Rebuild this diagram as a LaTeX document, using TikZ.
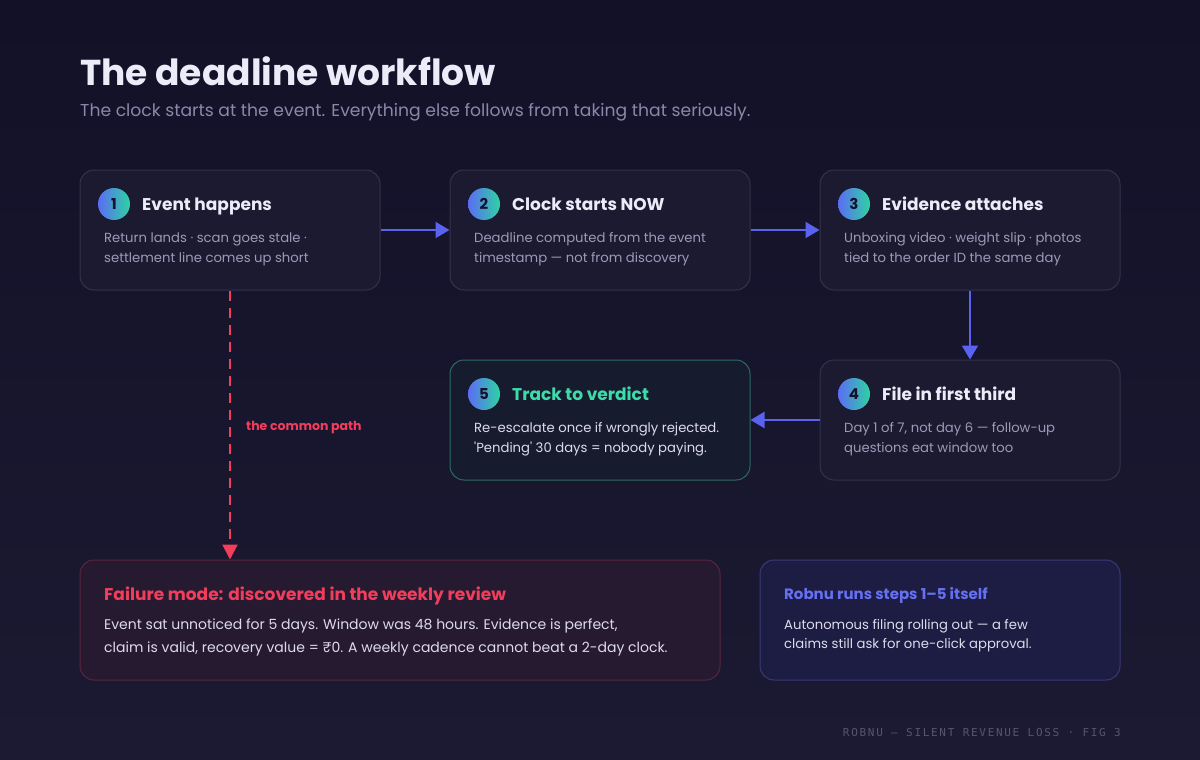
\documentclass[tikz,border=0pt]{standalone}
\usepackage{fontspec}
\setmainfont{Poppins}
\newfontfamily\monof[LetterSpace=15.5]{DejaVu Sans Mono}
\usetikzlibrary{arrows.meta}
\definecolor{bgtop}{HTML}{121128}
\definecolor{bgbot}{HTML}{1B1A32}
\definecolor{cardfill}{HTML}{1C1A30}
\definecolor{cardline}{HTML}{34324C}
\definecolor{vfill}{HTML}{161C2E}
\definecolor{vline}{HTML}{2B6B62}
\definecolor{failfill}{HTML}{261A30}
\definecolor{failline}{HTML}{5C2440}
\definecolor{robfill}{HTML}{1D1C42}
\definecolor{robline}{HTML}{383A78}
\definecolor{flow}{HTML}{5A63F0}
\definecolor{alert}{HTML}{F23D5C}
\definecolor{ttlc}{HTML}{ECEBF8}
\definecolor{subc}{HTML}{8A88AA}
\definecolor{bodyc}{HTML}{9C9AB8}
\definecolor{lightc}{HTML}{DDDBEB}
\definecolor{tealc}{HTML}{3DDCAA}
\definecolor{bluec}{HTML}{6570F2}
\definecolor{footc}{HTML}{56556E}
\definecolor{numA}{HTML}{5B6CF5}
\definecolor{numB}{HTML}{2ED3A3}
\definecolor{numtext}{HTML}{14132A}
\tikzset{
  card/.style={draw=cardline, fill=cardfill, rounded corners=14pt, line width=1pt, inner sep=0pt, minimum width=300pt, minimum height=120pt},
  num/.style={circle, minimum size=32pt, inner sep=0pt, left color=numA, right color=numB, text=numtext, font=\bfseries\fontsize{15}{15}\selectfont},
  steptitle/.style={anchor=base west, inner sep=0pt, text=ttlc, font=\bfseries\fontsize{17}{20}\selectfont},
  stepbody/.style={anchor=base west, inner sep=0pt, align=left, text=bodyc, font=\fontsize{13.2}{20}\selectfont},
  flowarrow/.style={draw=flow, line width=2pt, -{Triangle[length=14pt,width=16pt]}},
}
\begin{document}
\begin{tikzpicture}[x=1pt,y=-1pt]
\useasboundingbox (0,0) rectangle (1200,760);
\shade[top color=bgtop, bottom color=bgbot] (0,0) rectangle (1200,760);

% header
\node[anchor=base west, inner sep=0pt, text=ttlc, font=\bfseries\fontsize{36}{40}\selectfont] (title) at (80,85) {The deadline workflow};
\node[anchor=base west, inner sep=0pt, text=subc, font=\fontsize{17.2}{20}\selectfont] (subtitle) at (80,116) {The clock starts at the event. Everything else follows from taking that seriously.};

% cards
\node[card] (b1) at (230,230) {};
\node[card] (b2) at (600,230) {};
\node[card] (b3) at (970,230) {};
\node[card] (b4) at (970,420) {};
\node[card, draw=vline, fill=vfill] (b5) at (600,420) {};
\node[card, draw=failline, fill=failfill, minimum width=640pt] (fail) at (400,620) {};
\node[card, draw=robline, fill=robfill, minimum width=360pt] (rob) at (940,620) {};

% step 1
\node[num] (n1) at (114,204) {1};
\node[steptitle] (t1) at (142,210) {Event happens};
\node[stepbody] (d1) at (104,262) {Return lands · scan goes stale ·\\settlement line comes up short};
% step 2
\node[num] (n2) at (484,204) {2};
\node[steptitle] (t2) at (512,210) {Clock starts NOW};
\node[stepbody] (d2) at (474,262) {Deadline computed from the event\\timestamp — not from discovery};
% step 3
\node[num] (n3) at (854,204) {3};
\node[steptitle] (t3) at (882,210) {Evidence attaches};
\node[stepbody] (d3) at (844,262) {Unboxing video · weight slip · photos\\tied to the order ID the same day};
% step 4
\node[num] (n4) at (854,394) {4};
\node[steptitle] (t4) at (882,400) {File in first third};
\node[stepbody] (d4) at (844,452) {Day 1 of 7, not day 6 — follow-up\\questions eat window too};
% step 5
\node[num] (n5) at (484,394) {5};
\node[steptitle, text=tealc] (t5) at (512,400) {Track to verdict};
\node[stepbody, text=lightc] (d5) at (474,452) {Re-escalate once if wrongly rejected.\\\textquotesingle Pending\textquotesingle\ 30 days = nobody paying.};

% failure
\node[steptitle, text=alert] (tf) at (104,600) {Failure mode: discovered in the weekly review};
\node[stepbody, text=lightc, font=\fontsize{14}{23}\selectfont] (df) at (104,652) {Event sat unnoticed for 5 days. Window was 48 hours. Evidence is perfect,\\claim is valid, recovery value = ₹0. A weekly cadence cannot beat a 2-day clock.};

% robnu
\node[steptitle, text=bluec, font=\bfseries\fontsize{15}{18}\selectfont] (tr) at (784,599) {Robnu runs steps 1–5 itself};
\node[stepbody, text=lightc, font=\fontsize{13.2}{19}\selectfont] (dr) at (784,648) {Autonomous filing rolling out — a few\\claims still ask for one-click approval.};

% connectors
\draw[flowarrow] (b1.east) -- (b2.west);
\draw[flowarrow] (b2.east) -- (b3.west);
\draw[flowarrow] (b3.south) -- (b4.north);
\draw[flowarrow] (b4.west) -- (b5.east);
\draw[draw=alert, line width=2.2pt, dash pattern=on 10pt off 7pt, -{Triangle[length=15pt,width=15pt]}] (b1.south) -- (b1.south |- fail.north);
\node[anchor=base west, inner sep=0pt, text=alert, font=\bfseries\fontsize{12.5}{14}\selectfont] (lbl) at (246,430) {the common path};

% footer
\node[anchor=base east, inner sep=0pt, text=footc, font=\monof\fontsize{11}{13}\selectfont] (foot) at (1121,736) {ROBNU — SILENT REVENUE LOSS · FIG 3};
\end{tikzpicture}
\end{document}
